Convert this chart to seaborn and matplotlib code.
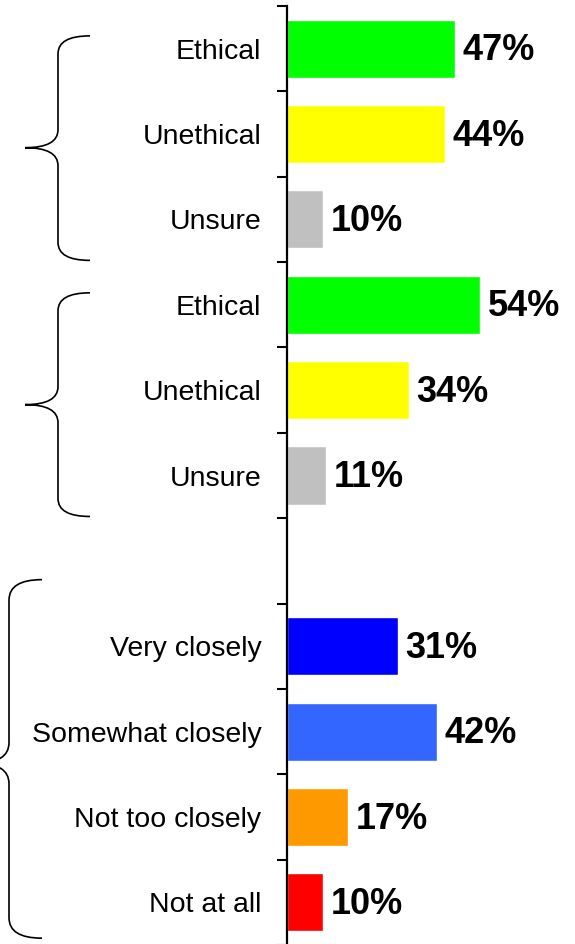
import matplotlib
matplotlib.use("Agg")
import matplotlib.pyplot as plt
from matplotlib.path import Path
from matplotlib.patches import PathPatch
from matplotlib.transforms import blended_transform_factory
import numpy as np
import pandas as pd
import seaborn as sns

# ---- data ----
labels = ["Ethical", "Unethical", "Unsure",
          "Ethical", "Unethical", "Unsure",
          "",
          "Very closely", "Somewhat closely", "Not too closely", "Not at all"]
values = [47, 44, 10, 54, 34, 11, None, 31, 42, 17, 10]
colors = ["#00FF00", "#FFFF00", "#C0C0C0",
          "#00FF00", "#FFFF00", "#C0C0C0",
          "#FFFFFF",
          "#0000FF", "#3366FF", "#FF9900", "#FF0000"]

keys = [f"r{i}" for i in range(len(labels))]
df = pd.DataFrame({"key": keys,
                   "value": [v if v is not None else 0 for v in values]})

sns.set_theme(style="white")
plt.rcParams["font.family"] = ["Liberation Sans", "DejaVu Sans"]

W, H, DPI = 575, 944, 100
fig = plt.figure(figsize=(W / DPI, H / DPI), dpi=DPI)
ax = fig.add_axes([287 / W, -1 / H, 1 - 287 / W, 1 - 5 / H])

sns.barplot(data=df, x="value", y="key", hue="key", order=keys,
            palette=dict(zip(keys, colors)), legend=False, width=0.68,
            saturation=1, ax=ax)

ax.set_xlim(0, 288 / 3.58)
ax.set_ylim(len(keys) - 0.5, -0.5)

for s in ["top", "right", "bottom"]:
    ax.spines[s].set_visible(False)
ax.spines["left"].set_linewidth(1.6)
ax.spines["left"].set_color("black")
ax.set_xticks([])
ax.set_xlabel("")
ax.set_ylabel("")

# ticks at category boundaries, labels at centres
ax.set_yticks(np.arange(-0.5, len(keys), 1.0))
ax.set_yticklabels([])
ax.tick_params(axis="y", which="major", left=True, length=7.5, width=1.5,
               color="black", direction="out")
ax.set_yticks(np.arange(len(keys)), minor=True)
ax.set_yticklabels(labels, minor=True)
ax.tick_params(axis="y", which="minor", length=0, pad=18.5,
               labelsize=20.5, labelcolor="black")

for i, v in enumerate(values):
    if v is None:
        continue
    ax.annotate(f"{v}%", xy=(v, i), xytext=(5.5, -1.5), textcoords="offset points",
                ha="left", va="center", fontsize=26, fontweight="bold",
                color="black")

# ---- braces ----
tr = blended_transform_factory(fig.transFigure, ax.transData)

def brace(xt, xv, xe, ytop, ymid, ybot, r):
    X = lambda px: px / W
    verts = [(X(xe), ytop), (X(xv), ytop), (X(xv), ytop + r),
             (X(xv), ymid - r),
             (X(xv), ymid), (X(xt), ymid),
             (X(xv), ymid), (X(xv), ymid + r),
             (X(xv), ybot - r),
             (X(xv), ybot), (X(xe), ybot)]
    codes = [Path.MOVETO, Path.CURVE3, Path.CURVE3,
             Path.LINETO,
             Path.CURVE3, Path.CURVE3,
             Path.CURVE3, Path.CURVE3,
             Path.LINETO,
             Path.CURVE3, Path.CURVE3]
    p = PathPatch(Path(verts, codes), transform=tr, fill=False,
                  lw=1.2, edgecolor="black", clip_on=False)
    fig.add_artist(p)

brace(25, 58, 90, -0.15, 1.16, 2.48, 0.21)
brace(25, 58, 90, 2.86, 4.17, 5.48, 0.21)
brace(-24, 9, 42, 6.22, 8.37, 10.42, 0.24)

fig.savefig("out.png", dpi=DPI)
